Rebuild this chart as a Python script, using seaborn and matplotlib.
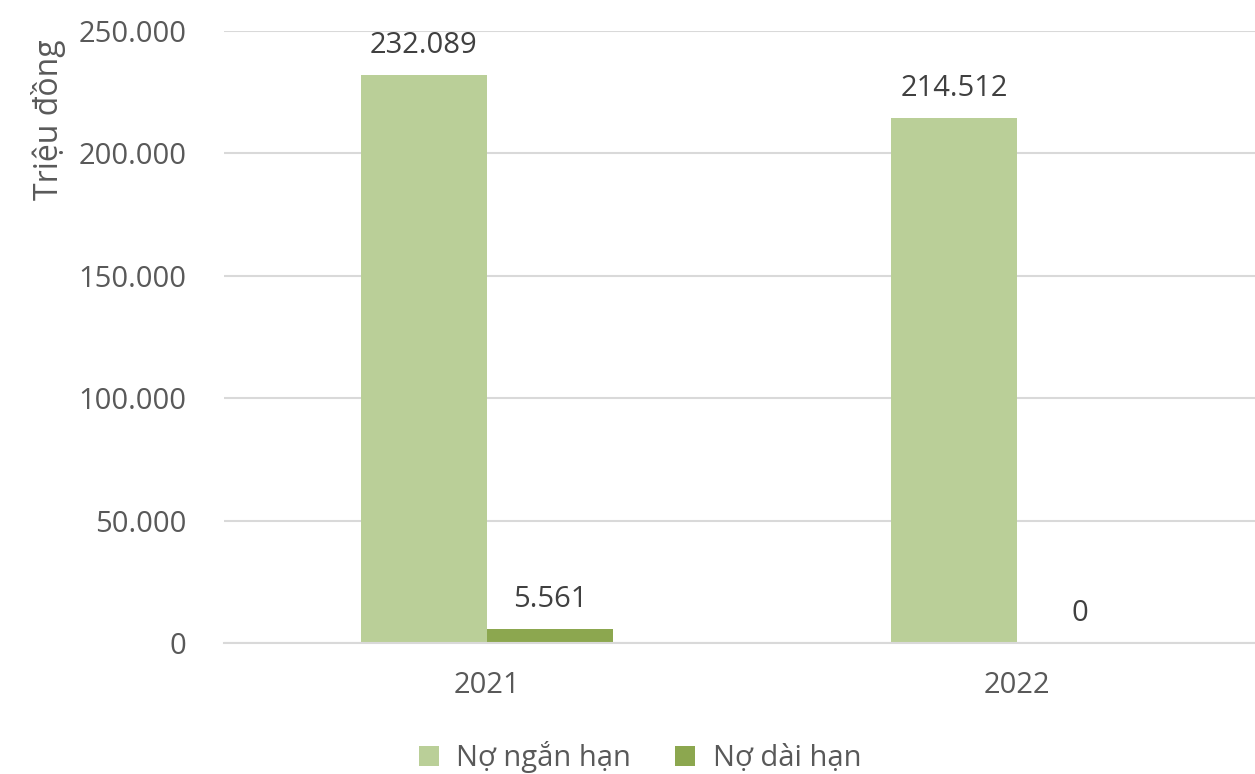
import matplotlib
matplotlib.use("Agg")
import matplotlib.pyplot as plt
import seaborn as sns
import pandas as pd
from matplotlib.ticker import FuncFormatter

years = ["2021", "2022"]
series = ["Nợ ngắn hạn", "Nợ dài hạn"]
short_term = [232089, 214512]
long_term = [5561, 0]
y_ticks = [0, 50000, 100000, 150000, 200000, 250000]

df = pd.DataFrame({
    "year": years * 2,
    "series": [series[0]] * 2 + [series[1]] * 2,
    "value": short_term + long_term,
})

sns.set_theme(style="white")
plt.rcParams['font.family'] = ['Open Sans', 'DejaVu Sans']

fig = plt.figure(figsize=(12.55, 7.74), dpi=100)
ax = fig.add_axes([224/1255, 1-643/774, 1-224/1255, (643-31)/774])

palette = ["#BACF98", "#8CA74F"]
sns.barplot(data=df, x="year", y="value", hue="series", palette=palette,
            width=0.475, gap=0, ax=ax, legend=True, saturation=1, linewidth=0)

ax.set_xlim(-0.496, 1.449)
ax.set_ylim(0, 250000)
ax.set_yticks(y_ticks)
ax.yaxis.set_major_formatter(FuncFormatter(lambda v, p: f"{int(v):,}".replace(",", ".")))
ax.grid(axis="y", color="#D9D9D9", linewidth=1.5)
ax.set_axisbelow(True)
for s in ["top", "right", "left"]:
    ax.spines[s].set_visible(False)
ax.spines["bottom"].set_color("#D9D9D9")
ax.spines["bottom"].set_linewidth(1.5)
ax.tick_params(axis="both", length=0, labelsize=21, colors="#595959")
ax.tick_params(axis="y", pad=27)
ax.tick_params(axis="x", pad=20)
ax.set_xlabel("")
ax.set_ylabel("Triệu đồng", fontsize=23, color="#595959")
ax.yaxis.set_label_coords(-0.153, 0.855)

for cont in ax.containers:
    for bar in cont:
        h = bar.get_height()
        ax.annotate(f"{int(h):,}".replace(",", "."),
                    (bar.get_x() + bar.get_width()/2, h),
                    xytext=(0, 11), textcoords="offset points",
                    ha="center", va="bottom", fontsize=21, color="#404040")

handles, labels = ax.get_legend_handles_labels()
ax.get_legend().remove()
leg = fig.legend(handles, labels, loc="center", bbox_to_anchor=(640/1255, 1-757/774), ncol=2,
                 frameon=False, fontsize=21, handlelength=0.7, handleheight=0.7,
                 columnspacing=1.5, handletextpad=0.6, borderaxespad=0, borderpad=0)
for t in leg.get_texts():
    t.set_color("#595959")

fig.savefig("out.png", dpi=100)
